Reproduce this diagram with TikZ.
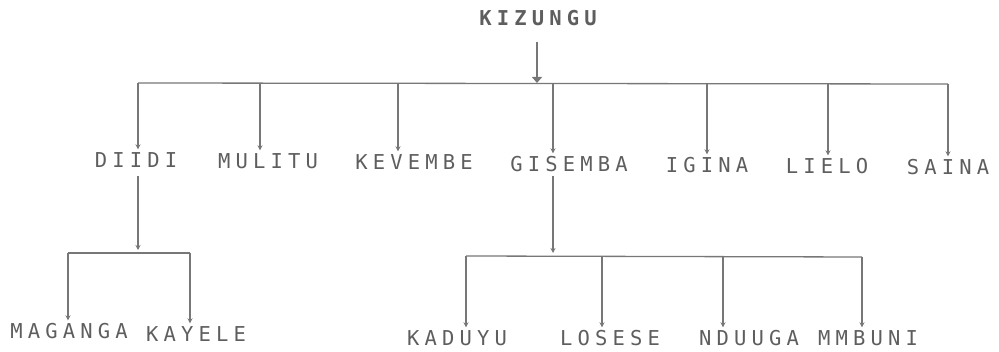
\documentclass[tikz,border=0pt]{standalone}
\usepackage{fontspec}
\usetikzlibrary{arrows.meta}
\newfontfamily\plotfont{DejaVu Sans Mono}
\definecolor{lngray}{HTML}{777777}
\definecolor{txgray}{HTML}{5E5E5E}
\newcommand\spacedtxt[1]{\spacedtxti#1\relax}
\def\spacedtxti#1{\ifx#1\relax\else\makebox[17.5pt]{#1}\expandafter\spacedtxti\fi}
\tikzset{
  lab/.style={inner sep=0pt, text height=15pt, text depth=0pt, text=txgray,
    font=\plotfont\fontsize{20.5}{20.5}\selectfont},
  toplab/.style={lab, font=\plotfont\bfseries\fontsize{20.5}{20.5}\selectfont},
  ln/.style={draw=lngray, line width=1.3pt},
  arr/.style={ln, -{Stealth[length=5pt,width=5pt]}, shorten >=3pt},
  barr/.style={ln, -{Triangle[length=6pt,width=10pt]}},
}
\begin{document}
\begin{tikzpicture}[x=1pt,y=-1pt]
\useasboundingbox (0,0) rectangle (999,352);
% labels
\node[toplab] (kiz) at (538,18) {\spacedtxt{KIZUNGU}};
\node[lab] (diidi) at (136,160) {\spacedtxt{DIIDI}};
\node[lab] (mul) at (268,161) {\spacedtxt{MULITU}};
\node[lab] (kev) at (414,162) {\spacedtxt{KEVEMBE}};
\node[lab] (gis) at (569,164) {\spacedtxt{GISEMBA}};
\node[lab] (igi) at (707,165) {\spacedtxt{IGINA}};
\node[lab] (lie) at (827,166) {\spacedtxt{LIELO}};
\node[lab] (sai) at (948,167) {\spacedtxt{SAINA}};
\node[lab] (mag) at (69,331) {\spacedtxt{MAGANGA}};
\node[lab] (kay) at (196,334) {\spacedtxt{KAYELE}};
\node[lab] (kad) at (457,338) {\spacedtxt{KADUYU}};
\node[lab] (los) at (610,338) {\spacedtxt{LOSESE}};
\node[lab] (ndu) at (749,338) {\spacedtxt{NDUUGA}};
\node[lab] (mmb) at (868,338) {\spacedtxt{MMBUNI}};
% bar coordinates, top level
\coordinate (k0) at (537,42);
\coordinate (k1) at (537,83);
\coordinate (t1) at (138,83);
\coordinate (t2) at (260,83);
\coordinate (t3) at (398,83);
\coordinate (t4) at (553,83);
\coordinate (t5) at (707,83);
\coordinate (t6) at (828,83);
\coordinate (t7) at (948,84);
\draw[ln] (t1) -- (t7);
\draw[barr] (k0) -- (k1);
\draw[arr] (t1) -- (t1 |- diidi.north);
\draw[arr] (t2) -- (t2 |- mul.north);
\draw[arr] (t3) -- (t3 |- kev.north);
\draw[arr] (t4) -- (t4 |- gis.north);
\draw[arr] (t5) -- (t5 |- igi.north);
\draw[arr] (t6) -- (t6 |- lie.north);
\draw[arr] (t7) -- (t7 |- sai.north);
% DIIDI subtree
\coordinate (d0) at (138,176);
\coordinate (d1) at (138,253);
\coordinate (dl) at (68,253);
\coordinate (dr) at (190,253);
\draw[arr] (d0) -- (d1);
\draw[ln] (dl) -- (dr);
\draw[arr] (dl) -- (dl |- mag.north);
\draw[arr] (dr) -- (dr |- kay.north);
% GISEMBA subtree
\coordinate (g0) at (553,176);
\coordinate (g1) at (553,256);
\coordinate (g2) at (466,256);
\coordinate (g3) at (602,256);
\coordinate (g4) at (723,257);
\coordinate (g5) at (862,257);
\draw[arr] (g0) -- (g1);
\draw[ln] (g2) -- (g5);
\draw[arr] (g2) -- (g2 |- kad.north);
\draw[arr] (g3) -- (g3 |- los.north);
\draw[arr] (g4) -- (g4 |- ndu.north);
\draw[arr] (g5) -- (g5 |- mmb.north);
\end{tikzpicture}
\end{document}
